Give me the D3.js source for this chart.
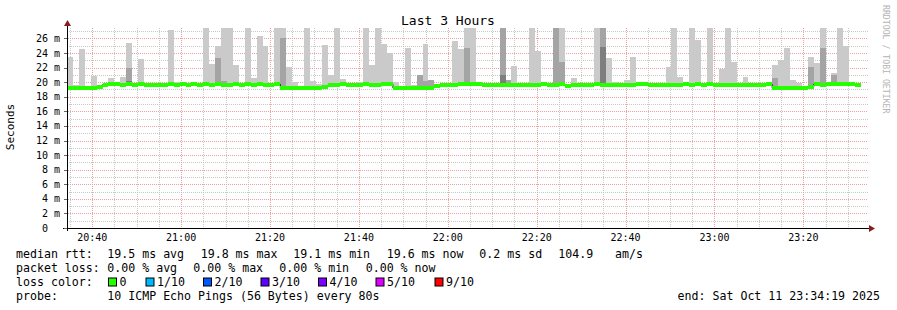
<!DOCTYPE html>
<html>
<head>
<meta charset="utf-8">
<script src="https://cdn.jsdelivr.net/npm/d3@7"></script>
<style>
    body { margin: 0; background: #fff; }
    text { font-family: "DejaVu Sans Mono", monospace; fill: #000; white-space: pre; }
</style>
</head>
<body>
<svg id="chart" width="897" height="310"></svg>
<script>
const START = new Date(2025, 9, 11, 20, 34, 19);
const END = new Date(2025, 9, 11, 23, 34, 19);
const STEP_SEC = 80;

// median rtt per 80s step (ms)
const median = [
    19.2, 19.2, 19.25, 19.15, 19.15, 19.4, 19.65, 19.7, 19.7, 19.65,
    19.7, 19.6, 19.7, 19.55, 19.6, 19.6, 19.6, 19.7, 19.6, 19.7,
    19.65, 19.7, 19.6, 19.7, 19.65, 19.7, 19.55, 19.6, 19.7, 19.65,
    19.7, 19.6, 19.7, 19.6, 19.65, 19.7, 19.2, 19.2, 19.2, 19.2,
    19.2, 19.15, 19.2, 19.3, 19.6, 19.55, 19.7, 19.65, 19.6, 19.65,
    19.7, 19.6, 19.65, 19.7, 19.7, 19.2, 19.2, 19.2, 19.25, 19.2,
    19.15, 19.25, 19.5, 19.55, 19.65, 19.6, 19.7, 19.8, 19.8, 19.75,
    19.55, 19.6, 19.6, 19.6, 19.65, 19.6, 19.6, 19.65, 19.55, 19.6,
    19.7, 19.6, 19.6, 19.7, 19.5, 19.6, 19.6, 19.6, 19.65, 19.7,
    19.6, 19.55, 19.6, 19.65, 19.6, 19.65, 19.7, 19.7, 19.65, 19.55,
    19.6, 19.65, 19.65, 19.55, 19.7, 19.6, 19.7, 19.6, 19.7, 19.65,
    19.55, 19.6, 19.6, 19.6, 19.6, 19.6, 19.55, 19.6, 19.7, 19.2,
    19.2, 19.25, 19.2, 19.2, 19.15, 19.3, 19.7, 19.65, 19.7, 19.7,
    19.7, 19.7, 19.7, 19.6
];

// highest ping per step (outer smoke), ms
const pingMax = [
    23.5, 19.6, 24.55, 19.5, 20.9, 19.6, 19.9, 20.6, 19.9, 20.75,
    25.4, 19.8, 23.2, 19.8, 19.8, 19.8, 19.9, 27.1, 20.0, 19.9,
    19.9, 20.0, 19.9, 28, 22.5, 25.0, 28, 28, 22.35, 19.9,
    28, 20.6, 26.3, 25.0, 19.9, 28, 28, 22.1, 20.0, 19.5,
    28, 20.2, 19.8, 25.1, 21.0, 28, 20.45, 19.9, 19.9, 20.0,
    28, 22.4, 28, 25.2, 24.0, 20.0, 19.5, 24.7, 19.6, 21.0,
    25.2, 20.3, 19.7, 19.8, 19.9, 25.7, 24.5, 28, 28, 20.0,
    19.9, 19.8, 19.8, 28, 20.35, 22.2, 19.9, 19.8, 28, 24.3,
    19.9, 19.8, 28, 28, 19.8, 20.6, 19.8, 19.8, 19.9, 28,
    28, 23.3, 20.0, 19.8, 20.3, 23.4, 19.9, 19.9, 19.8, 19.8,
    19.8, 22.1, 28, 20.75, 19.9, 28, 25.8, 19.9, 28, 19.9,
    21.8, 28, 22.8, 19.8, 20.7, 19.8, 19.7, 19.8, 19.9, 22.35,
    23.1, 24.7, 20.3, 19.9, 19.4, 23.5, 22.6, 28, 19.9, 21.2,
    28, 24.9, 19.9, 19.8
];

// inner smoke bands: [step, top ms]
const pingMid = [
    [10, 21.95], [25, 23.3], [26, 20.2], [36, 26.06], [59, 21.0], [60, 20.2],
    [61, 20.3], [67, 24.7], [69, 20.0], [73, 28], [74, 20.35], [82, 28],
    [83, 22.8], [90, 28], [119, 20.6], [125, 22.05], [127, 24.7], [129, 21.0]
];
const pingInner = [[10, 20.2], [73, 21.0], [90, 24.85]];

const yTicks = [0, 2, 4, 6, 8, 10, 12, 14, 16, 18, 20, 22, 24, 26];
const lossColors = [
    ["0", "#26ff00"], ["1/10", "#00b8ff"], ["2/10", "#0059ff"], ["3/10", "#5e00ff"],
    ["4/10", "#7e00ff"], ["5/10", "#dd00ff"], ["9/10", "#ff0000"]
];
const lossX = [108.5, 146, 203.5, 261, 318.5, 376, 435];

const rttLegend = [
    ["median rtt:", 16], ["19.5 ms avg", 107.3], ["19.8 ms max", 200.7], ["19.1 ms min", 293.3],
    ["19.6 ms now", 386.7], ["0.2 ms sd", 479.3], ["104.9", 558.3], ["am/s", 615]
];
const lossLegend = [
    ["packet loss:", 16], ["0.00 % avg", 107.3], ["0.00 % max", 193.3],
    ["0.00 % min", 279.3], ["0.00 % now", 365.7]
];

const X0 = 67, X1 = 867, Y0 = 228, Y1 = 28;
const svg = d3.select("#chart");

const x = d3.scaleTime().domain([START, END]).range([X0, X1]);
const y = d3.scaleLinear().domain([0, 27.43]).range([Y0, Y1]);
const stepTime = i => new Date(START.getTime() + i * STEP_SEC * 1000);
const yTop = v => y(Math.min(v, 27.43));

svg.append("rect").attr("width", 897).attr("height", 310).attr("fill", "#fff");

// grid first, the smoke covers it
const grid = svg.append("g").attr("shape-rendering", "crispEdges");
const minorX = d3.timeMinute.every(5).range(START, END).filter(t => t.getMinutes() % 20 != 0);
const majorX = d3.timeMinute.every(20).range(START, END);
const minorY = d3.range(1, 28).filter(v => v % 2 != 0);

grid.selectAll(".gx").data(minorX).join("line")
    .attr("x1", d => Math.round(x(d)) + 0.5).attr("x2", d => Math.round(x(d)) + 0.5)
    .attr("y1", Y1).attr("y2", Y0)
    .attr("stroke", "#c8c8c8").attr("stroke-dasharray", "1,1");
grid.selectAll(".gy").data(minorY).join("line")
    .attr("x1", X0).attr("x2", X1 + 1)
    .attr("y1", d => Math.round(y(d)) + 0.5).attr("y2", d => Math.round(y(d)) + 0.5)
    .attr("stroke", "#c8c8c8").attr("stroke-dasharray", "1,1");
grid.selectAll(".mx").data(majorX).join("line")
    .attr("x1", d => Math.round(x(d)) + 0.5).attr("x2", d => Math.round(x(d)) + 0.5)
    .attr("y1", Y1).attr("y2", Y0 + 2)
    .attr("stroke", "#eca0a0").attr("stroke-dasharray", "1,1");
grid.selectAll(".my").data(yTicks.slice(1)).join("line")
    .attr("x1", X0 - 3).attr("x2", X1 + 1)
    .attr("y1", d => Math.round(y(d)) + 0.5).attr("y2", d => Math.round(y(d)) + 0.5)
    .attr("stroke", "#eca0a0").attr("stroke-dasharray", "1,1");

// smoke
const smoke = svg.append("g").attr("shape-rendering", "crispEdges");
function drawBand(rows, color) {
    smoke.append("g").selectAll("rect")
        .data(rows)
        .join("rect")
        .attr("x", d => x(stepTime(d[0])))
        .attr("width", d => x(stepTime(d[0] + 1)) - x(stepTime(d[0])))
        .attr("y", d => yTop(d[1]))
        .attr("height", d => Math.max(0, y(median[d[0]]) - yTop(d[1])))
        .attr("fill", color);
}
drawBand(pingMax.map((v, i) => [i, v]), "#cacaca");
drawBand(pingMid, "#a4a4a4");
drawBand(pingInner, "#7e7e7e");

// median line
const medLine = d3.line()
    .x(d => x(d[0]))
    .y(d => y(d[1]))
    .curve(d3.curveStepAfter);
const medPts = median.map((v, i) => [stepTime(i), v]);
medPts.push([stepTime(median.length), median[median.length - 1]]);
svg.append("path")
    .attr("d", medLine(medPts))
    .attr("fill", "none")
    .attr("stroke", "#202020")
    .attr("stroke-width", 1);
svg.append("g").attr("shape-rendering", "crispEdges")
    .selectAll("rect")
    .data(median)
    .join("rect")
    .attr("x", (d, i) => x(stepTime(i)))
    .attr("width", (d, i) => x(stepTime(i + 1)) - x(stepTime(i)))
    .attr("y", d => y(d) - 2)
    .attr("height", 4)
    .attr("fill", lossColors[0][1]);

// axes
const axisG = svg.append("g").attr("shape-rendering", "crispEdges");
axisG.append("line").attr("x1", X0 + 0.5).attr("x2", X0 + 0.5).attr("y1", Y0 + 3).attr("y2", Y1 - 2)
    .attr("stroke", "#000");
axisG.append("line").attr("x1", X0 - 4).attr("x2", X1 + 2).attr("y1", Y0 + 0.5).attr("y2", Y0 + 0.5)
    .attr("stroke", "#000");
axisG.selectAll(".yt").data(yTicks).join("line")
    .attr("x1", X0 - 3).attr("x2", X0)
    .attr("y1", d => Math.round(y(d)) + 0.5).attr("y2", d => Math.round(y(d)) + 0.5)
    .attr("stroke", "#666");
svg.append("path").attr("d", `M${X0 - 3},${Y1 - 2}L${X0 + 0.5},${Y1 - 8}L${X0 + 4},${Y1 - 2}Z`)
    .attr("fill", "#8b1c1c");
svg.append("path").attr("d", `M${X1 + 2},${Y0 - 3}L${X1 + 8},${Y0 + 0.5}L${X1 + 2},${Y0 + 4}Z`)
    .attr("fill", "#8b1c1c");

// tick labels
svg.append("g").selectAll("text").data(yTicks).join("text")
    .attr("x", 60)
    .attr("y", d => y(d) + 3.5)
    .attr("text-anchor", "end")
    .style("font-size", "10px")
    .text(d => d == 0 ? "0  " : `${d} m`);
svg.append("g").selectAll("text").data(majorX).join("text")
    .attr("x", d => x(d))
    .attr("y", 241)
    .attr("text-anchor", "middle")
    .style("font-size", "10px")
    .text(d => d3.timeFormat("%H:%M")(d));

// titles
svg.append("text").attr("x", 448).attr("y", 24.5).attr("text-anchor", "middle")
    .style("font-size", "13px").text("Last 3 Hours");
svg.append("text").attr("transform", "translate(14,127) rotate(-90)").attr("text-anchor", "middle")
    .style("font-size", "11px").text("Seconds");
svg.append("text").attr("transform", "translate(883,5) rotate(90)")
    .style("font-size", "8.2px").style("fill", "#b4b4b4")
    .text("RRDTOOL / TOBI OETIKER");

// legend
const legend = svg.append("g").style("font-size", "11.6px");
legend.selectAll(".r1").data(rttLegend).join("text")
    .attr("x", d => d[1]).attr("y", 257.7).text(d => d[0]);
legend.selectAll(".r2").data(lossLegend).join("text")
    .attr("x", d => d[1]).attr("y", 271.7).text(d => d[0]);
legend.append("text").attr("x", 16).attr("y", 285.7).text("loss color:");
lossColors.forEach(function (lc, i) {
    legend.append("rect")
        .attr("x", lossX[i]).attr("y", 278)
        .attr("width", 8).attr("height", 8)
        .attr("fill", lc[1]).attr("stroke", "#000").attr("stroke-width", 1);
    legend.append("text").attr("x", lossX[i] + 11).attr("y", 285.7).text(lc[0]);
});
legend.append("text").attr("x", 16).attr("y", 299.7).text("probe:");
legend.append("text").attr("x", 107.3).attr("y", 299.7).text("10 ICMP Echo Pings (56 Bytes) every 80s");
legend.append("text").attr("x", 880).attr("y", 299.7).attr("text-anchor", "end")
    .text("end: Sat Oct 11 23:34:19 2025");
</script>
</body>
</html>
